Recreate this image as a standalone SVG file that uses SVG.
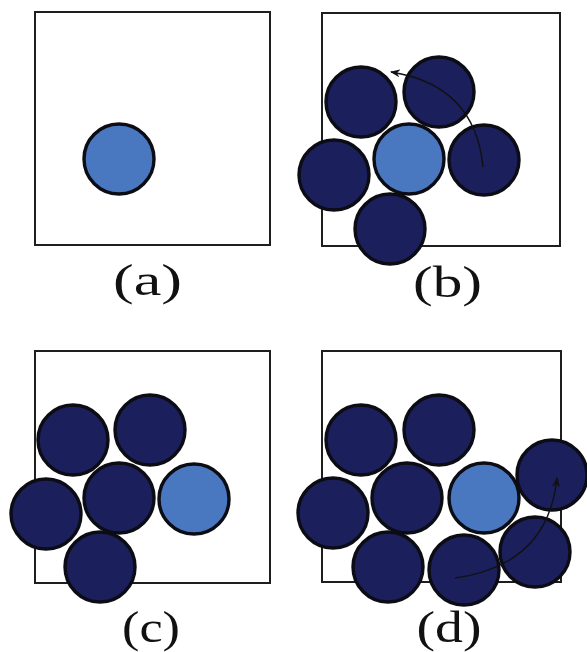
<svg xmlns="http://www.w3.org/2000/svg" width="587" height="652" viewBox="0 0 587 652">
<style>
.box{fill:none;stroke:#1e1e1e;stroke-width:2}
.dk{fill:#1b1f5c;stroke:#0c0c14;stroke-width:3.4}
.lt{fill:#4a78c0;stroke:#0c0c14;stroke-width:3.4}
.lbl{font-family:"Liberation Serif","Times New Roman",serif;font-size:45px;fill:#111;text-anchor:middle}
.arr{fill:none;stroke:#111;stroke-width:1.4;marker-end:url(#ah)}
</style>
<defs>
<marker id="ah" viewBox="0 0 10 8" refX="9" refY="4" markerWidth="10" markerHeight="8" markerUnits="userSpaceOnUse" orient="auto">
<path d="M0,0 L10,4 L0,8 L3,4 z" fill="#111"/>
</marker>
</defs>
<rect width="587" height="652" fill="#fff"/>

<g id="panel-a">
<rect class="box" x="35" y="12" width="235" height="233"/>
<g id="a-c1"><circle class="lt" cx="119" cy="159" r="35"/></g>
<text class="lbl" x="147.5" y="295" textLength="69" lengthAdjust="spacingAndGlyphs">(a)</text>
</g>

<g id="panel-b">
<rect class="box" x="322" y="13" width="238" height="233"/>
<g id="b-c1"><circle class="dk" cx="361" cy="102" r="35"/></g>
<g id="b-c2"><circle class="dk" cx="439" cy="92" r="35"/></g>
<g id="b-c3"><circle class="dk" cx="484" cy="160" r="35"/></g>
<g id="b-c4"><circle class="dk" cx="334" cy="175" r="35"/></g>
<g id="b-c5"><circle class="dk" cx="390" cy="229" r="35"/></g>
<g id="b-c0"><circle class="lt" cx="409" cy="159" r="35"/></g>
<text class="lbl" x="447.5" y="297" textLength="69" lengthAdjust="spacingAndGlyphs">(b)</text>
</g>

<g id="panel-c">
<rect class="box" x="35" y="351" width="235" height="232"/>
<g id="c-c1"><circle class="dk" cx="73" cy="440" r="35"/></g>
<g id="c-c2"><circle class="dk" cx="150" cy="430" r="35"/></g>
<g id="c-c3"><circle class="dk" cx="119" cy="498" r="35"/></g>
<g id="c-c4"><circle class="dk" cx="46" cy="514" r="35"/></g>
<g id="c-c5"><circle class="dk" cx="100" cy="567" r="35"/></g>
<g id="c-c0"><circle class="lt" cx="194" cy="499" r="35"/></g>
<text class="lbl" x="151" y="642" textLength="58" lengthAdjust="spacingAndGlyphs">(c)</text>
</g>

<g id="panel-d">
<rect class="box" x="322" y="351" width="239" height="231"/>
<g id="d-c1"><circle class="dk" cx="361" cy="440" r="35"/></g>
<g id="d-c2"><circle class="dk" cx="439" cy="430" r="35"/></g>
<g id="d-c3"><circle class="dk" cx="407" cy="498" r="35"/></g>
<g id="d-c4"><circle class="dk" cx="333" cy="513" r="35"/></g>
<g id="d-c5"><circle class="dk" cx="388" cy="567" r="35"/></g>
<g id="d-c6"><circle class="dk" cx="464" cy="570" r="35"/></g>
<g id="d-c7"><circle class="dk" cx="535" cy="552" r="35"/></g>
<g id="d-c8"><circle class="dk" cx="552" cy="475" r="35"/></g>
<g id="d-c0"><circle class="lt" cx="484" cy="498" r="35"/></g>
<text class="lbl" x="449" y="642" textLength="65" lengthAdjust="spacingAndGlyphs">(d)</text>
</g>

<g id="connectors">
<path class="arr" d="M483,167 Q475,85 391,72"/>
<path class="arr" d="M455,578 Q548,565 557,478"/>
</g>
</svg>
